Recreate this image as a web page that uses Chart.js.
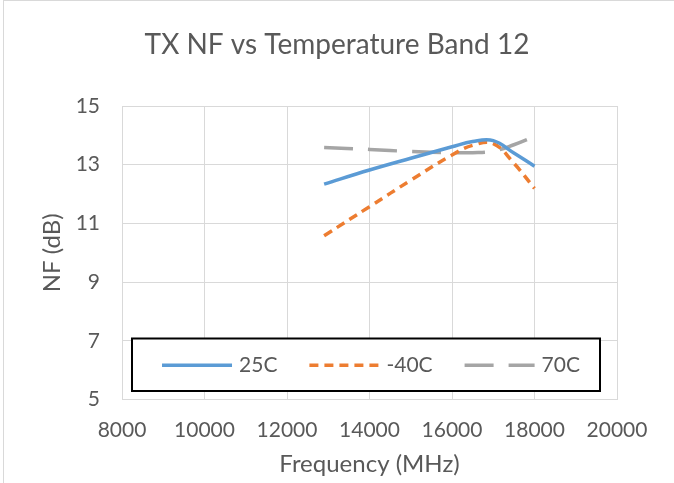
<!DOCTYPE html>
<html><head><meta charset="utf-8">
<script src="https://cdn.jsdelivr.net/npm/chart.js@4/dist/chart.umd.min.js"></script>
<style>
html,body{margin:0;padding:0;background:#fff;overflow:hidden}
#wrap{position:relative;width:674px;height:483px}
#frame{position:absolute;left:3px;top:0;width:700px;height:500px;border:1px solid #d9d9d9;box-sizing:border-box}
canvas{position:absolute;left:0;top:0}
</style></head><body>
<div id="wrap"><div id="frame"></div><canvas id="c" width="674" height="483"></canvas></div>
<script>
const chartTitle = 'TX NF vs Temperature Band 12';
const xTitle = 'Frequency (MHz)';
const yTitle = 'NF (dB)';
const seriesNames = ['25C', '-40C', '70C'];
const frequencies = [12900, 14000, 15000, 16000, 16500, 17000, 17500, 18000];
const nf25C      = [12.34, 12.82, 13.22, 13.61, 13.79, 13.82, 13.40, 12.95];
const nfMinus40C = [10.58, 11.57, 12.47, 13.33, 13.66, 13.72, 13.05, 12.19];
const nf70C      = [13.59, 13.52, 13.45, 13.41, 13.41, 13.46, 13.68, 13.96];
const xTicks = [8000, 10000, 12000, 14000, 16000, 18000, 20000];
const yTicks = [5, 7, 9, 11, 13, 15];

const FONT = 'Lato';
const TEXT = '#595959';
const GRID = '#d9d9d9';
const colors = ['#5B9BD5', '#ED7D31', '#A5A5A5'];
const dashes = [[], [9, 6], [29, 15]];
const values = [nf25C, nfMinus40C, nf70C];

const datasets = seriesNames.map((name, i) => ({
  label: name,
  data: frequencies.map((f, j) => ({x: f, y: values[i][j]})),
  borderColor: colors[i],
  backgroundColor: colors[i],
  borderWidth: 3.5,
  borderDash: dashes[i],
  pointRadius: 0,
  tension: 0.4,
  fill: false
}));

const boxLegend = {
  id: 'boxLegend',
  afterDraw(chart) {
    const ctx = chart.ctx, a = chart.chartArea;
    const L = a.left + 10, R = a.right - 17, T = a.bottom - 61, B = a.bottom - 8.5;
    ctx.save();
    ctx.fillStyle = '#fff';
    ctx.fillRect(L, T, R - L, B - T);
    ctx.strokeStyle = '#000';
    ctx.lineWidth = 2;
    ctx.strokeRect(L, T, R - L, B - T);
    ctx.font = '21px ' + FONT;
    const sample = 70, gapT = 7, gapI = 32;
    const items = chart.data.datasets.map(d => ({d, w: sample + gapT + ctx.measureText(d.label).width}));
    const total = items.reduce((s, it) => s + it.w, 0) + gapI * (items.length - 1);
    let x = (L + R) / 2 - total / 2 + 5;
    const y = (T + B) / 2 + 0.5;
    items.forEach(it => {
      ctx.beginPath();
      ctx.setLineDash(it.d.borderDash);
      ctx.strokeStyle = it.d.borderColor;
      ctx.lineWidth = 3.5;
      ctx.moveTo(x, y); ctx.lineTo(x + sample, y);
      ctx.stroke();
      ctx.setLineDash([]);
      ctx.fillStyle = TEXT;
      ctx.textBaseline = 'middle';
      ctx.textAlign = 'left';
      ctx.fillText(it.d.label, x + sample + gapT, y);
      x += it.w + gapI;
    });
    ctx.restore();
  }
};

new Chart(document.getElementById('c'), {
  type: 'line',
  data: {datasets},
  plugins: [boxLegend],
  options: {
    responsive: false,
    animation: false,
    layout: {padding: 0},
    plugins: {
      legend: {display: false},
      tooltip: {enabled: false},
      title: {display: true, text: chartTitle, color: TEXT,
        font: {family: FONT, size: 28, weight: 'normal'}, padding: {top: 28, bottom: 44.4}}
    },
    scales: {
      x: {
        type: 'linear', min: 8000, max: 20000,
        afterBuildTicks: s => { s.ticks = xTicks.map(v => ({value: v})); },
        afterFit: s => { s.height = 83.5; },
        grid: {color: GRID, drawTicks: false, lineWidth: 1},
        border: {color: GRID},
        ticks: {color: TEXT, padding: 18, font: {family: FONT, size: 21}, maxRotation: 0, callback: v => String(v)},
        title: {display: true, text: xTitle, color: TEXT, font: {family: FONT, size: 24}, padding: {top: 0, bottom: 4}}
      },
      y: {
        min: 5, max: 15,
        afterBuildTicks: s => { s.ticks = yTicks.map(v => ({value: v})); },
        afterFit: s => { s.width = 122; },
        grid: {color: GRID, drawTicks: false, lineWidth: 1},
        border: {color: GRID},
        ticks: {color: TEXT, padding: 22, font: {family: FONT, size: 21}},
        title: {display: true, text: yTitle, color: TEXT, font: {family: FONT, size: 24}, padding: {top: 38, bottom: 0}}
      },
      spacer: {
        position: 'right', min: 0, max: 1,
        afterFit: s => { s.width = 57; },
        grid: {display: false, drawTicks: false},
        border: {display: false},
        ticks: {display: false}
      }
    }
  }
});
</script>
</body></html>
